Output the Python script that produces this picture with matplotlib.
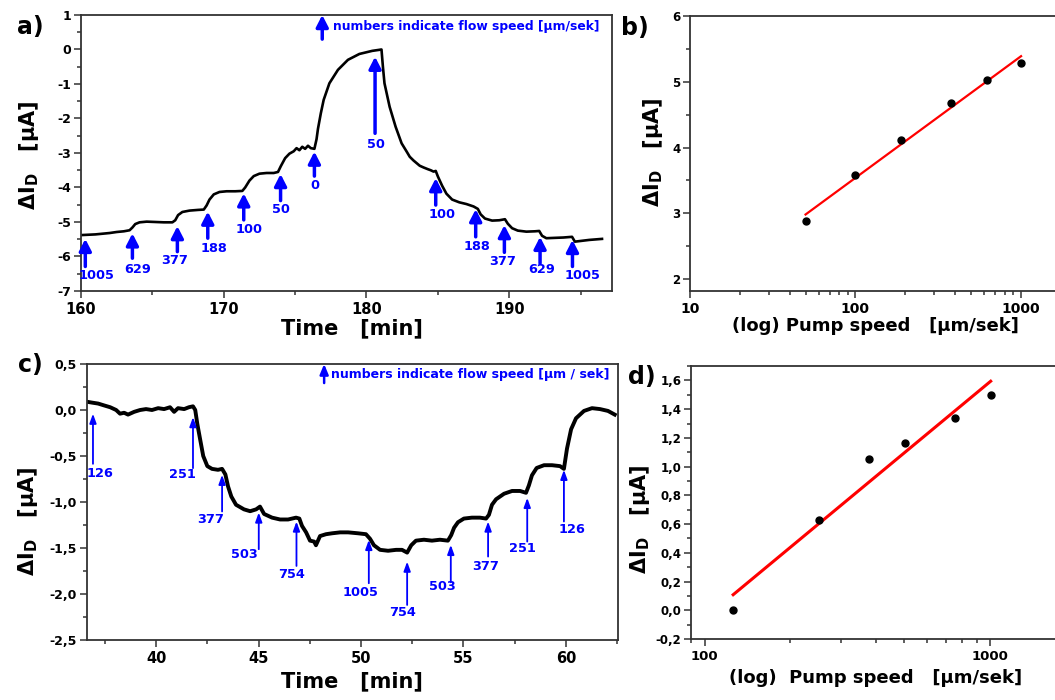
import numpy as np
import matplotlib
matplotlib.use('Agg')
import matplotlib.pyplot as plt
from matplotlib.ticker import MultipleLocator, FuncFormatter, LogLocator, NullFormatter, FixedLocator

plt.rcParams['font.family'] = ['DejaVu Sans']
plt.rcParams['font.weight'] = 'bold'
plt.rcParams['axes.unicode_minus'] = False
plt.rcParams['mathtext.fontset'] = 'custom'
plt.rcParams['mathtext.rm'] = 'DejaVu Sans:bold'
plt.rcParams['mathtext.it'] = 'DejaVu Sans:bold'
plt.rcParams['mathtext.bf'] = 'DejaVu Sans:bold'

BLUE = '#0000ff'
FRAME = '#333333'

# --- a) drain current vs time, stepwise flow changes ---
time_a = [160.0, 160.5, 161.0, 161.5, 162.0, 162.5, 163.0, 163.4, 163.6, 163.8,
          164.1, 164.6, 165.2, 165.8, 166.4, 166.6, 166.8, 167.1, 167.6, 168.2,
          168.6, 168.8, 169.0, 169.3, 169.7, 170.2, 170.8, 171.3, 171.5, 171.8,
          172.1, 172.5, 173.0, 173.5, 173.8, 174.0, 174.3, 174.6, 174.9, 175.1,
          175.3, 175.5, 175.7, 175.9, 176.1, 176.35, 176.5, 176.6, 176.8, 177.0,
          177.4, 178.0, 178.7, 179.5, 180.4, 180.9, 181.05, 181.15, 181.26, 181.62,
          182.04, 182.46, 182.8, 183.03, 183.3, 183.73, 184.0, 184.3, 184.5, 184.7,
          184.85, 185.0, 185.3, 185.6, 186.0, 186.5, 187.0, 187.5, 187.8, 188.0,
          188.3, 188.8, 189.3, 189.7, 189.9, 190.2, 190.6, 191.2, 191.8, 192.1,
          192.3, 192.6, 193.2, 193.8, 194.4, 194.6, 195.0, 195.6, 196.5]
current_a = [-5.38, -5.37, -5.36, -5.34, -5.32, -5.29, -5.27, -5.24, -5.16, -5.06,
             -5.01, -4.99, -5.00, -5.01, -5.01, -4.95, -4.80, -4.71, -4.67, -4.65,
             -4.64, -4.52, -4.35, -4.20, -4.13, -4.11, -4.11, -4.10, -4.00, -3.80,
             -3.67, -3.60, -3.58, -3.58, -3.55, -3.38, -3.15, -3.02, -2.95, -2.86,
             -2.92, -2.82, -2.88, -2.79, -2.86, -2.88, -2.60, -2.30, -1.85, -1.46,
             -0.98, -0.59, -0.30, -0.13, -0.04, -0.01, 0.00, -0.50, -0.98, -1.66,
             -2.24, -2.72, -2.95, -3.11, -3.22, -3.37, -3.42, -3.47, -3.50, -3.54,
             -3.52, -3.68, -3.95, -4.18, -4.35, -4.43, -4.48, -4.55, -4.62, -4.78,
             -4.90, -4.96, -4.95, -4.92, -5.05, -5.18, -5.25, -5.28, -5.27, -5.26,
             -5.40, -5.47, -5.46, -5.45, -5.43, -5.57, -5.55, -5.52, -5.49]

# arrow markers: time, flow speed text
arrow_t_a = [160.3, 163.6, 166.75, 168.88, 171.4, 173.98, 176.35, 180.6,
             184.85, 187.65, 189.66, 192.16, 194.43]
speed_a = ['1005', '629', '377', '188', '100', '50', '0', '50',
           '100', '188', '377', '629', '1005']
# arrow geometry (tip, tail, label x, label y)
tip_a = [-5.49, -5.33, -5.12, -4.70, -4.17, -3.61, -2.96, -0.21, -3.73, -4.63, -5.09, -5.43, -5.52]
tail_a = [-6.29, -6.05, -5.86, -5.47, -4.94, -4.38, -3.67, -2.43, -4.51, -5.43, -5.88, -6.20, -6.29]
lab_x_a = [161.1, 164.0, 166.55, 169.3, 171.8, 174.0, 176.4, 180.65, 185.27, 187.76, 189.52, 192.27, 195.1]
lab_y_a = [-6.565, -6.37, -6.13, -5.76, -5.21, -4.65, -3.93, -2.74, -4.78, -5.70, -6.15, -6.39, -6.565]

# --- b) step height vs pump speed ---
speed_b = [50, 100, 188, 377, 629, 1005]
delta_b = [2.88, 3.59, 4.11, 4.68, 5.02, 5.29]

# --- c) second run ---
time_c = [36.62, 36.88, 37.17, 37.46, 37.76, 38.05, 38.24, 38.44, 38.63, 38.93,
          39.22, 39.51, 39.80, 40.10, 40.39, 40.68, 40.88, 41.07, 41.37, 41.60,
          41.80, 41.91, 42.01, 42.15, 42.30, 42.50, 42.73, 43.02, 43.22, 43.38,
          43.51, 43.67, 43.90, 44.29, 44.59, 44.88, 45.07, 45.27, 45.66, 46.05,
          46.44, 46.83, 46.99, 47.12, 47.32, 47.51, 47.71, 47.80, 48.00, 48.29,
          48.59, 48.98, 49.37, 49.85, 50.24, 50.44, 50.63, 50.93, 51.32, 51.71,
          52.00, 52.25, 52.45, 52.68, 53.07, 53.46, 53.85, 54.24, 54.40, 54.54,
          54.73, 55.02, 55.41, 55.80, 56.10, 56.24, 56.39, 56.59, 56.98, 57.37,
          57.76, 58.05, 58.19, 58.34, 58.57, 58.93, 59.32, 59.71, 59.90, 60.05,
          60.25, 60.49, 60.88, 61.27, 61.66, 62.05, 62.38]
current_c = [0.09, 0.08, 0.07, 0.05, 0.03, 0.0, -0.04, -0.03, -0.05, -0.02,
             0.0, 0.01, 0.0, 0.02, 0.01, 0.03, -0.02, 0.02, 0.01, 0.03,
             0.04, 0.0, -0.15, -0.32, -0.50, -0.61, -0.64, -0.65, -0.64, -0.70,
             -0.83, -0.94, -1.03, -1.08, -1.10, -1.08, -1.05, -1.13, -1.17, -1.19,
             -1.19, -1.17, -1.18, -1.26, -1.33, -1.42, -1.43, -1.47, -1.37, -1.35,
             -1.34, -1.33, -1.33, -1.34, -1.35, -1.40, -1.47, -1.52, -1.53, -1.52,
             -1.52, -1.55, -1.47, -1.42, -1.41, -1.42, -1.41, -1.42, -1.36, -1.28,
             -1.22, -1.18, -1.17, -1.17, -1.18, -1.14, -1.03, -0.97, -0.91, -0.88,
             -0.88, -0.90, -0.82, -0.71, -0.63, -0.60, -0.60, -0.61, -0.64, -0.42,
             -0.21, -0.09, -0.01, 0.02, 0.01, -0.01, -0.05]

arrow_t_c = [36.92, 41.80, 43.22, 45.01, 46.85, 50.38, 52.25, 54.38, 56.20, 58.11, 59.90]
speed_c = ['126', '251', '377', '503', '754', '1005', '754', '503', '377', '251', '126']
tip_c = [-0.04, -0.077, -0.704, -1.114, -1.212, -1.412, -1.648, -1.466, -1.212, -0.955, -0.65]
tail_c = [-0.585, -0.632, -1.103, -1.513, -1.695, -1.883, -2.119, -1.872, -1.593, -1.43, -1.212]
lab_x_c = [37.27, 41.27, 42.67, 44.33, 46.63, 49.95, 52.04, 53.99, 56.10, 57.87, 60.29]
lab_y_c = [-0.686, -0.704, -1.194, -1.568, -1.785, -1.985, -2.203, -1.92, -1.702, -1.51, -1.303]

# --- d) step height vs pump speed, second run ---
speed_d = [126, 251, 377, 503, 754, 1005]
delta_d = [0.0, 0.63, 1.05, 1.165, 1.34, 1.50]

ylabel = r'ΔI$_{\mathrm{D}}$   [µA]'


def style_axes(ax, xsize=10, ysize=8.5):
    for s in ax.spines.values():
        s.set_color(FRAME)
        s.set_linewidth(1.3)
    ax.tick_params(which='both', direction='out', top=False, right=False, color=FRAME, width=1.1)
    ax.tick_params(which='major', length=5)
    ax.tick_params(which='minor', length=3)
    ax.tick_params(axis='x', labelsize=xsize, pad=3)
    ax.tick_params(axis='y', labelsize=ysize, pad=2)
    for lab in ax.get_xticklabels() + ax.get_yticklabels():
        lab.set_fontweight('bold')


def comma(v, pos):
    return '{:.1f}'.format(round(v, 2) + 0.0).replace('.', ',')


def draw_arrow(ax, x, y0, y1, lw, hl, hw):
    ax.annotate('', xy=(x, y0), xytext=(x, y1),
                arrowprops=dict(arrowstyle='-|>,head_length=%g,head_width=%g' % (hl, hw),
                                lw=lw, color=BLUE, shrinkA=0, shrinkB=0),
                annotation_clip=False)


def fit_line(ax, x, y, lw):
    k, b = np.polyfit(np.log10(x), y, 1)
    xs = np.array([min(x), max(x)])
    ax.plot(xs, k * np.log10(xs) + b, color='#ff0000', lw=lw, zorder=2)
    ax.plot(x, y, 'o', color='black', ms=5, zorder=3)


fig = plt.figure(figsize=(10.55, 7), dpi=100)

# a)
ax = fig.add_axes([0.0768, 0.5843, 0.5033, 0.3943])
ax.plot(time_a, current_a, color='black', lw=1.9)
for t, s, tp, tl, lx, ly in zip(arrow_t_a, speed_a, tip_a, tail_a, lab_x_a, lab_y_a):
    draw_arrow(ax, t, tp, tl, 2.5, 0.7, 0.36)
    ax.text(lx, ly, s, color=BLUE, fontsize=9.3, fontweight='bold', ha='center', va='center')
draw_arrow(ax, 176.9, 1.0, 0.3, 2.5, 0.7, 0.36)
ax.text(177.65, 0.66, 'numbers indicate flow speed [µm/sek]', color=BLUE,
        fontsize=8.9, fontweight='bold', ha='left', va='center')
ax.set_xlim(160, 197.2)
ax.set_ylim(-7, 1)
ax.xaxis.set_major_locator(MultipleLocator(10))
ax.xaxis.set_minor_locator(MultipleLocator(5))
ax.yaxis.set_major_locator(MultipleLocator(1))
ax.yaxis.set_minor_locator(MultipleLocator(0.5))
style_axes(ax, 10.5, 9)
ax.set_xlabel('Time   [min]', fontsize=15, fontweight='bold')
ax.xaxis.set_label_coords(0.51, -0.10)
ax.set_ylabel(ylabel, fontsize=15, fontweight='bold')
ax.yaxis.set_label_coords(-0.075, 0.493)

# b)
ax = fig.add_axes([0.654, 0.5843, 0.348, 0.3929])
fit_line(ax, speed_b, delta_b, 1.6)
ax.set_xscale('log')
ax.set_xlim(10, 1660)
ax.set_ylim(1.82, 6)
ax.xaxis.set_major_locator(FixedLocator([10, 100, 1000]))
ax.xaxis.set_major_formatter(FuncFormatter(lambda v, p: '%d' % v))
ax.xaxis.set_minor_locator(LogLocator(base=10, subs=np.arange(2, 10)))
ax.xaxis.set_minor_formatter(NullFormatter())
ax.yaxis.set_major_locator(MultipleLocator(1))
ax.yaxis.set_minor_locator(MultipleLocator(0.5))
style_axes(ax, 10, 8.5)
ax.set_xlabel('(log) Pump speed   [µm/sek]', fontsize=13, fontweight='bold')
ax.xaxis.set_label_coords(0.504, -0.095)
ax.set_ylabel(ylabel, fontsize=15, fontweight='bold')
ax.yaxis.set_label_coords(-0.068, 0.505)

# c)
ax = fig.add_axes([0.0823, 0.0857, 0.5035, 0.3943])
ax.plot(time_c, current_c, color='black', lw=2.8)
for t, s, tp, tl, lx, ly in zip(arrow_t_c, speed_c, tip_c, tail_c, lab_x_c, lab_y_c):
    draw_arrow(ax, t, tp, tl, 1.3, 0.55, 0.2)
    ax.text(lx, ly, s, color=BLUE, fontsize=9.3, fontweight='bold', ha='center', va='center')
draw_arrow(ax, 48.2, 0.5, 0.293, 1.8, 0.6, 0.25)
ax.text(48.55, 0.384, 'numbers indicate flow speed [µm / sek]', color=BLUE,
        fontsize=9, fontweight='bold', ha='left', va='center')
ax.set_xlim(36.62, 62.54)
ax.set_ylim(-2.5, 0.5)
ax.xaxis.set_major_locator(MultipleLocator(5))
ax.xaxis.set_minor_locator(MultipleLocator(2.5))
ax.yaxis.set_major_locator(MultipleLocator(0.5))
ax.yaxis.set_minor_locator(MultipleLocator(0.25))
ax.yaxis.set_major_formatter(FuncFormatter(comma))
style_axes(ax, 10.5, 9)
ax.set_xlabel('Time   [min]', fontsize=15, fontweight='bold')
ax.xaxis.set_label_coords(0.50, -0.112)
ax.set_ylabel(ylabel, fontsize=15, fontweight='bold')
ax.yaxis.set_label_coords(-0.089, 0.43)

# d)
ax = fig.add_axes([0.655, 0.0871, 0.347, 0.39])
fit_line(ax, speed_d, delta_d, 2.2)
ax.set_xscale('log')
ax.set_xlim(89.7, 1717)
ax.set_ylim(-0.2, 1.7)
ax.xaxis.set_major_locator(FixedLocator([100, 1000]))
ax.xaxis.set_major_formatter(FuncFormatter(lambda v, p: '%d' % v))
ax.xaxis.set_minor_locator(LogLocator(base=10, subs=np.arange(2, 10)))
ax.xaxis.set_minor_formatter(NullFormatter())
ax.yaxis.set_major_locator(MultipleLocator(0.2))
ax.yaxis.set_minor_locator(MultipleLocator(0.1))
ax.yaxis.set_major_formatter(FuncFormatter(comma))
style_axes(ax, 9.5, 8.5)
ax.set_xlabel('(log)  Pump speed   [µm/sek]', fontsize=13, fontweight='bold')
ax.xaxis.set_label_coords(0.505, -0.11)
ax.set_ylabel(ylabel, fontsize=15, fontweight='bold')
ax.yaxis.set_label_coords(-0.107, 0.44)

for lab, px, py in [('a)', 30, 27), ('b)', 635, 28), ('c)', 30, 365), ('d)', 642, 377)]:
    fig.text(px / 1055, 1 - py / 700, lab, fontsize=17, fontweight='bold', ha='center', va='center')

fig.savefig('out.png', dpi=100)
